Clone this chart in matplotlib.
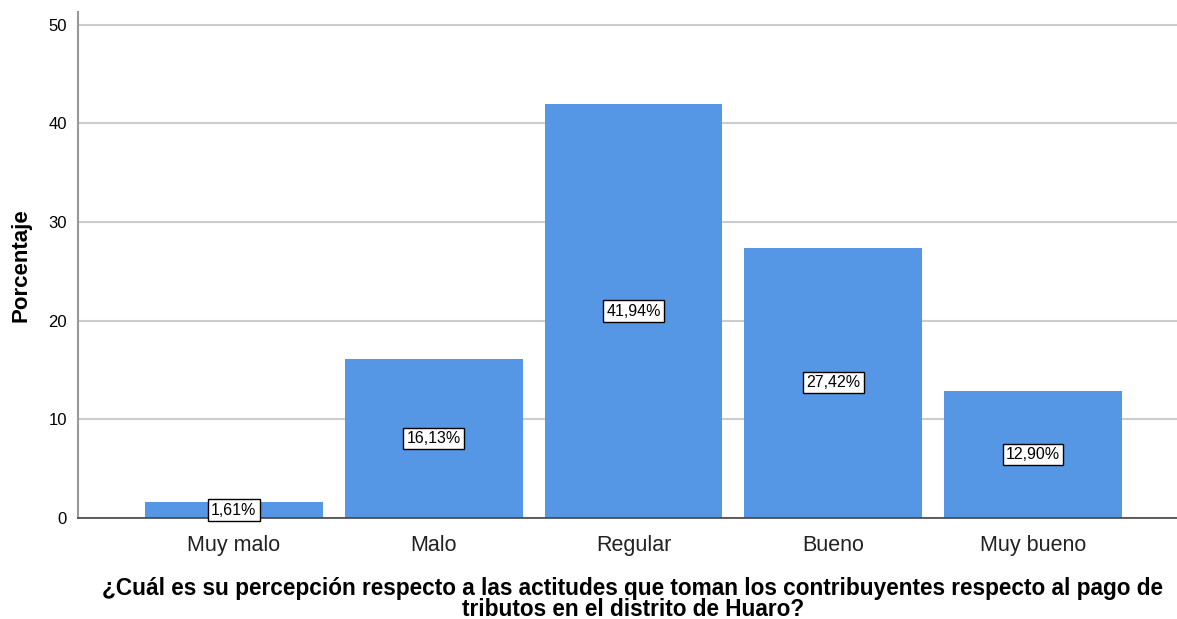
import matplotlib.pyplot as plt

plt.rcParams['font.family'] = ['Liberation Sans', 'DejaVu Sans']

categorias = ['Muy malo', 'Malo', 'Regular', 'Bueno', 'Muy bueno']
porcentajes = [1.61, 16.13, 41.94, 27.42, 12.90]
ticks_y = [0, 10, 20, 30, 40, 50]

fig = plt.figure(figsize=(11.77, 6.19), dpi=100)
ax = fig.add_axes([78 / 1177, 101 / 619, 1099 / 1177, 506 / 619])

x = range(len(categorias))
ax.bar(x, porcentajes, width=0.89, color='#5596e5', zorder=2)

# etiquetas con el porcentaje en el medio de cada barra
for i, v in enumerate(porcentajes):
    ax.text(i, v / 2, '{:.2f}%'.format(v).replace('.', ','), ha='center', va='center',
            fontsize=11.5, zorder=3,
            bbox=dict(boxstyle='square,pad=0.2', facecolor='white', edgecolor='black', linewidth=1))

ax.set_xlim(-0.78, 4.72)
ax.set_ylim(0, 51.3)
ax.set_yticks(ticks_y)
ax.set_xticks(list(x))
ax.set_xticklabels(categorias, fontsize=15.5, color='#222222')
for etiqueta in ax.get_xticklabels():
    etiqueta.set_va('baseline')  # todas las categorias sobre la misma linea
ax.tick_params(axis='y', length=0, labelsize=12, pad=8)
ax.tick_params(axis='x', length=0, pad=24)
ax.yaxis.grid(True, color='#cccccc', linewidth=1.5, zorder=0)
ax.spines['top'].set_visible(False)
ax.spines['right'].set_visible(False)
ax.spines['left'].set_color('#999999')
ax.spines['left'].set_linewidth(1.5)
ax.spines['bottom'].set_color('#444444')
ax.spines['bottom'].set_linewidth(1.2)

ax.set_ylabel('Porcentaje', fontsize=16, fontweight='bold', labelpad=12)
fig.text(633 / 1177, 20 / 619,
         '¿Cuál es su percepción respecto a las actitudes que toman los contribuyentes respecto al pago de\n'
         'tributos en el distrito de Huaro?',
         ha='center', va='center', fontsize=16.3, fontweight='bold', linespacing=0.9)

fig.savefig('out.png', dpi=100)
